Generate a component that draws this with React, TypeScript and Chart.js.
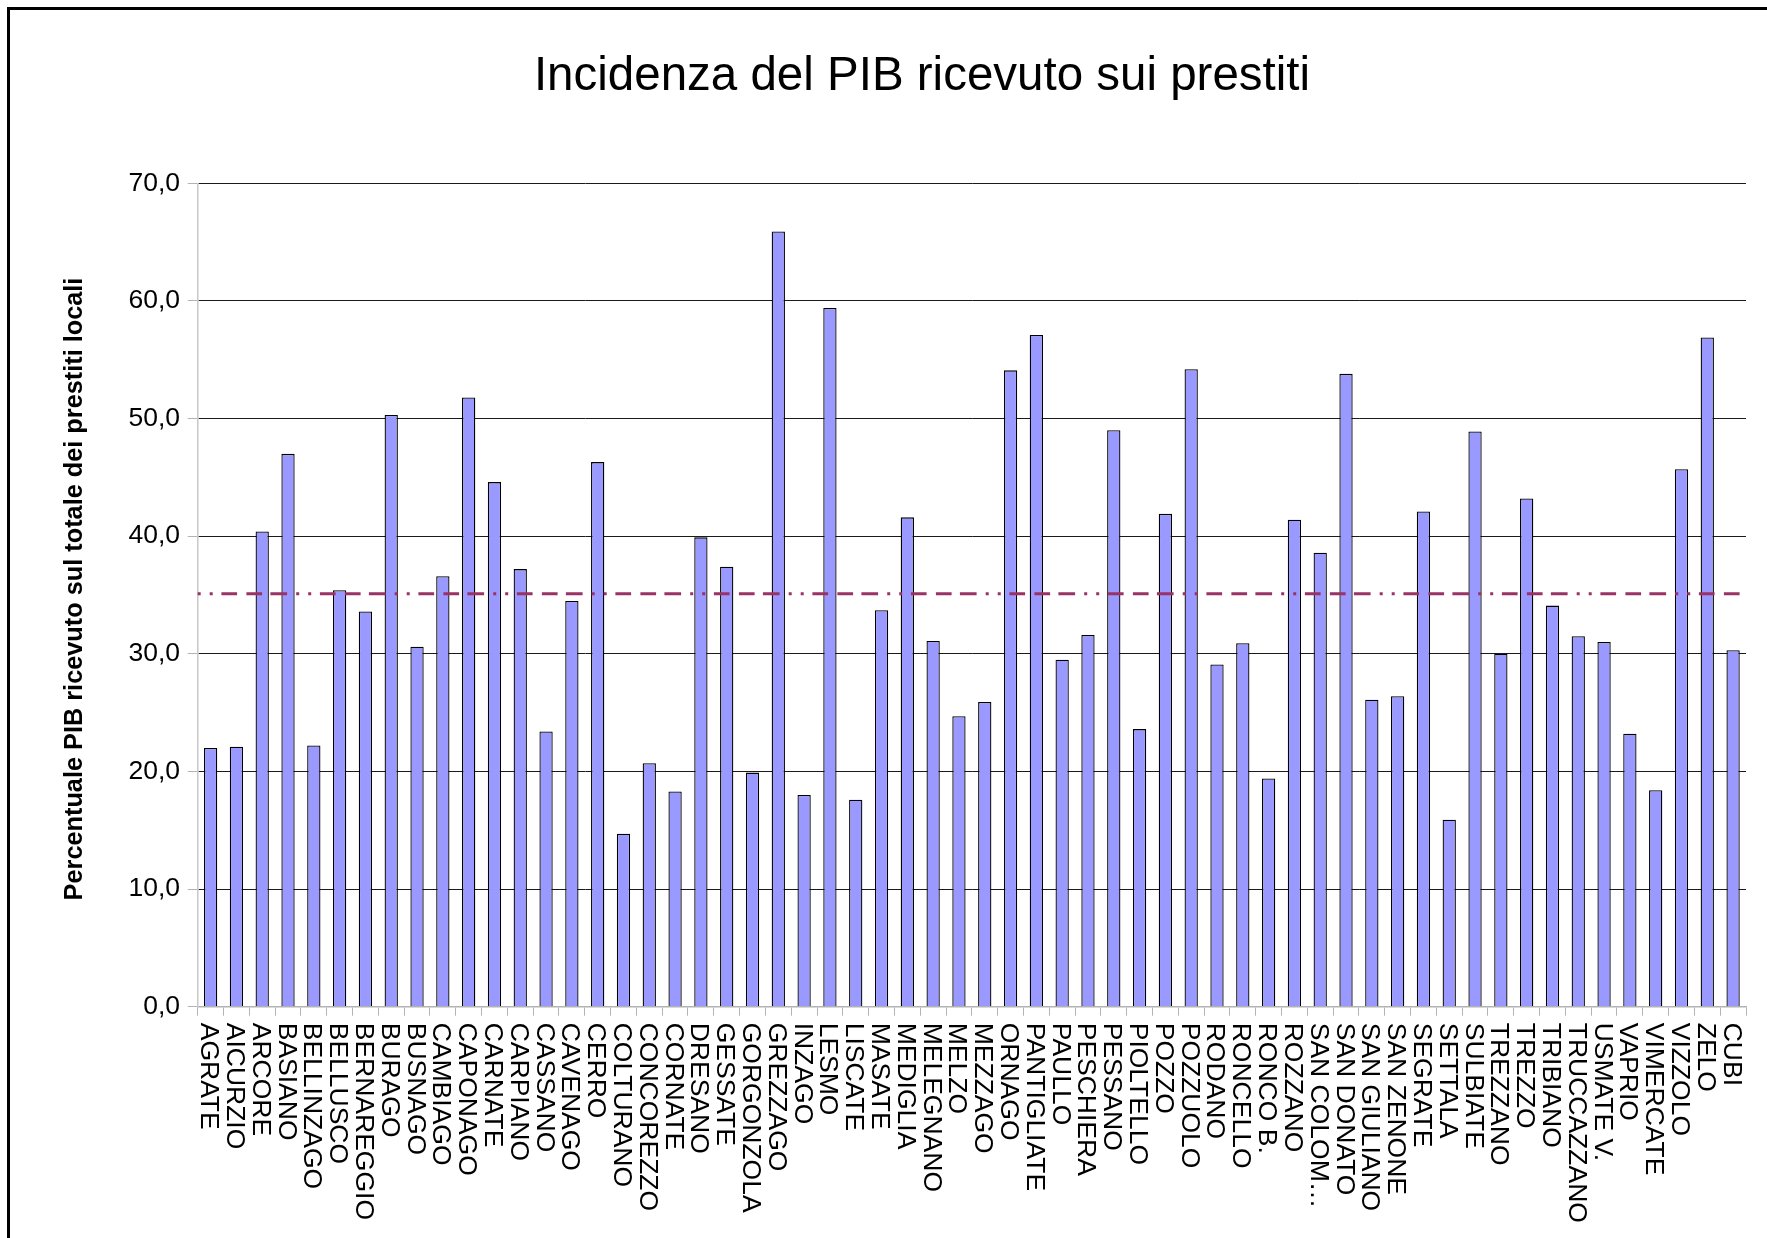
import React, { useEffect, useRef } from "react";
import { Chart, registerables } from "chart.js";

Chart.register(...registerables);

const CHART_TITLE = "Incidenza del PIB ricevuto sui prestiti";
const Y_AXIS_TITLE = "Percentuale PIB ricevuto sul totale dei prestiti locali";

const COMUNI = [
  "AGRATE", "AICURZIO", "ARCORE", "BASIANO", "BELLINZAGO", "BELLUSCO", "BERNAREGGIO", "BURAGO",
  "BUSNAGO", "CAMBIAGO", "CAPONAGO", "CARNATE", "CARPIANO", "CASSANO", "CAVENAGO", "CERRO",
  "COLTURANO", "CONCOREZZO", "CORNATE", "DRESANO", "GESSATE", "GORGONZOLA", "GREZZAGO", "INZAGO",
  "LESMO", "LISCATE", "MASATE", "MEDIGLIA", "MELEGNANO", "MELZO", "MEZZAGO", "ORNAGO",
  "PANTIGLIATE", "PAULLO", "PESCHIERA", "PESSANO", "PIOLTELLO", "POZZO", "POZZUOLO", "RODANO",
  "RONCELLO", "RONCO B.", "ROZZANO", "SAN COLOM\u2026", "SAN DONATO", "SAN GIULIANO", "SAN ZENONE", "SEGRATE",
  "SETTALA", "SULBIATE", "TREZZANO", "TREZZO", "TRIBIANO", "TRUCCAZZANO", "USMATE V.", "VAPRIO",
  "VIMERCATE", "VIZZOLO", "ZELO", "CUBI",
];

const INCIDENZA = [
  22.0, 22.1, 40.4, 47.0, 22.2, 35.4, 33.6, 50.3,
  30.6, 36.6, 51.8, 44.6, 37.2, 23.4, 34.5, 46.3,
  14.7, 20.7, 18.3, 39.9, 37.4, 19.9, 65.9, 18.0,
  59.4, 17.6, 33.7, 41.6, 31.1, 24.7, 25.9, 54.1,
  57.1, 29.5, 31.6, 49.0, 23.6, 41.9, 54.2, 29.1,
  30.9, 19.4, 41.4, 38.6, 53.8, 26.1, 26.4, 42.1,
  15.9, 48.9, 30.0, 43.2, 34.1, 31.5, 31.0, 23.2,
  18.4, 45.7, 56.9, 30.3,
];

const MEDIA = 35.1;

const Y_MIN = 0;
const Y_MAX = 70;
const Y_STEP = 10;

const FONT = "'Liberation Sans', Arial, sans-serif";

const W = 1767;
const H = 1238;

const refLinePlugin = {
  id: "refLine",
  afterDatasetsDraw(chart: any) {
    const { ctx, chartArea, scales } = chart;
    const py = scales.y.getPixelForValue(MEDIA);
    ctx.save();
    ctx.strokeStyle = "#993366";
    ctx.lineWidth = 3;
    ctx.lineCap = "butt";
    ctx.setLineDash([3, 9, 3, 8.7, 15.7, 9.3, 15.7, 8.3, 16.7, 9.1]);
    ctx.beginPath();
    ctx.moveTo(chartArea.left, py);
    ctx.lineTo(chartArea.right, py);
    ctx.stroke();
    ctx.restore();
  },
};

const labelsPlugin = {
  id: "verticalLabels",
  afterDraw(chart: any) {
    const { ctx, chartArea, scales } = chart;
    const labels = chart.data.labels as string[];
    ctx.save();
    ctx.fillStyle = "#000";
    ctx.font = `26.5px ${FONT}`;
    ctx.textAlign = "left";
    ctx.textBaseline = "alphabetic";
    labels.forEach((lab, i) => {
      const x = scales.x.getPixelForTick(i);
      ctx.save();
      ctx.translate(x, chartArea.bottom + 16);
      ctx.rotate(Math.PI / 2);
      ctx.fillText(lab, 0, 9.5);
      ctx.restore();
    });
    // y axis title
    ctx.font = `bold 25.3px ${FONT}`;
    ctx.textAlign = "center";
    ctx.textBaseline = "middle";
    ctx.translate(75, (chartArea.top + chartArea.bottom) / 2 - 6);
    ctx.rotate(-Math.PI / 2);
    ctx.fillText(Y_AXIS_TITLE, 0, 0);
    ctx.restore();
  },
};

export default function App() {
  const ref = useRef<HTMLCanvasElement | null>(null);

  useEffect(() => {
    if (!ref.current) return;
    const chart = new Chart(ref.current, {
      type: "bar",
      data: {
        labels: COMUNI,
        datasets: [
          {
            label: "Incidenza",
            data: INCIDENZA,
            backgroundColor: "#9999ff",
            borderColor: "#000000",
            borderWidth: 1.3,
            categoryPercentage: 1,
            barPercentage: 0.515,
          },
        ],
      },
      options: {
        responsive: false,
        animation: false,
        devicePixelRatio: 1,
        layout: { padding: { left: 98, right: W - 1746, top: 10, bottom: 0 } },
        plugins: {
          legend: { display: false },
          tooltip: { enabled: false },
          title: {
            display: true,
            text: CHART_TITLE,
            color: "#000",
            font: { family: FONT, size: 47.5, weight: "normal", lineHeight: 1.2 },
            padding: { top: 38.5, bottom: 77.8 },
          },
        },
        scales: {
          x: {
            type: "category",
            grid: {
              display: true,
              drawOnChartArea: false,
              drawTicks: true,
              tickLength: 9,
              tickColor: "#b3b3b3",
              offset: true,
            },
            border: { display: true, color: "#b3b3b3", width: 1.5 },
            ticks: { display: false },
            afterFit(scale: any) {
              scale.height = H - 1006.7;
            },
          },
          y: {
            min: Y_MIN,
            max: Y_MAX,
            ticks: {
              stepSize: Y_STEP,
              color: "#000",
              padding: 7.7,
              font: { family: FONT, size: 26.5 },
              callback: (v: any) => Number(v).toFixed(1).replace(".", ","),
            },
            grid: {
              color: (c: any) => (c.tick && c.tick.value === 0 ? "rgba(0,0,0,0)" : "#1a1a1a"),
              lineWidth: 1,
              tickLength: 10,
              tickColor: "#b3b3b3",
            },
            border: { display: true, color: "#c8c8c8", width: 1.5 },
            afterFit(scale: any) {
              scale.width = 99.7;
            },
          },
        },
      },
      plugins: [refLinePlugin, labelsPlugin],
    });
    return () => chart.destroy();
  }, []);

  return (
    <div
      style={{
        position: "fixed",
        left: 0,
        top: 0,
        width: W,
        height: H,
        overflow: "hidden",
        background: "#fff",
      }}
    >
      <canvas
        ref={ref}
        width={W}
        height={H}
        style={{ position: "absolute", left: 0, top: 0, width: W, height: H, display: "block" }}
      />
      <div
        style={{
          position: "absolute",
          left: 7,
          top: 7,
          width: W + 100,
          height: H + 100,
          borderLeft: "3px solid #000",
          borderTop: "3px solid #000",
          pointerEvents: "none",
        }}
      />
    </div>
  );
}
